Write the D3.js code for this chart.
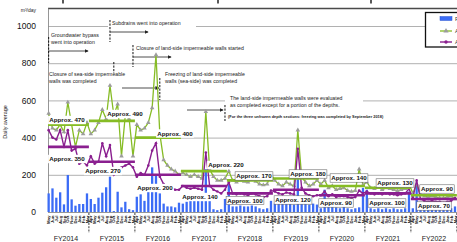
<!DOCTYPE html>
<html><head><meta charset="utf-8">
<script src="https://cdn.jsdelivr.net/npm/d3@7"></script>
<style>html,body{margin:0;padding:0;background:#fff;overflow:hidden}text{font-family:"Liberation Sans",Arial,sans-serif}</style>
</head><body><svg id="c" width="457" height="242"></svg>
<script>
// ---------------- data ----------------
const monthNames = ["Apr","May","Jun","Jul","Aug","Sep","Oct","Nov","Dec","Jan","Feb","Mar"];
const fiscalYears = ["FY2014","FY2015","FY2016","FY2017","FY2018","FY2019","FY2020","FY2021","FY2022"];
const yTicks = [0,200,400,600,800,1000];
// monthly values, index 0 = Apr 2014
const precipitation = [null, 100,127,77,106,41,199,68,34,43,43,100,
 70,43,77,104,133,190,5,109,25,55,15,10,
 82,95,60,110,240,200,100,45,30,30,25,50,
 45,55,60,60,60,60,230,60,15,10,15,70,
 150,30,30,35,30,30,35,30,20,15,20,60,
 45,45,50,50,45,40,220,50,45,40,45,40,
 20,120,30,60,25,20,30,20,15,20,25,130,
 120,20,15,20,15,20,15,20,15,15,20,110,
 20,150,25,20,15,20,15,15,20,15,20,30];
const generated = [null, 530,450,440,470,430,590,470,350,440,420,480,
 420,440,480,550,500,680,520,580,300,520,500,300,
 470,440,450,480,560,845,420,280,250,230,220,200,
 210,200,190,200,190,180,540,230,190,170,170,180,
 220,170,160,170,165,160,180,165,150,145,150,205,
 170,150,140,160,150,140,440,190,160,140,150,170,
 150,170,130,140,120,125,130,115,110,115,230,145,
 160,130,125,135,120,130,125,120,115,120,125,155,
 100,150,95,85,80,85,80,75,75,80,85,70];
const inflow = [null, 440,400,390,440,350,440,330,340,260,270,250,
 300,260,270,370,300,360,200,230,240,250,260,240,
 190,210,200,250,330,370,190,150,140,130,120,120,
 140,130,125,130,125,120,320,140,120,110,100,120,
 160,100,95,100,95,90,100,95,85,80,85,115,
 110,100,95,105,100,95,340,130,100,90,85,90,
 90,110,85,95,80,85,85,80,75,80,115,100,
 110,100,95,100,95,100,95,95,90,95,100,125,
 75,170,70,60,55,60,55,55,50,55,60,75];
const generatedAvg = [470,490,400,220,170,180,140,130,90];
const inflowAvg = [350,270,200,140,100,120,90,100,70];
const legendLabels = ["Precipitation in Namie","Amount of contaminated water generated","Amount of groundwater/rainwater inflow into buildings"];
const events = [
 {month:1, lines:["Groundwater bypass","went into operation"]},
 {month:17, lines:["Subdrains went into operation"]},
 {month:23, lines:["Closure of land-side impermeable walls started"]},
 {month:18, lines:["Closure of sea-side impermeable","walls was completed"]},
 {month:30, lines:["Freezing of land-side impermeable","walls (sea-side) was completed"]},
 {month:47, lines:["The land-side impermeable walls were evaluated","as completed except for a portion of the depths."]}
];
const footnote = "(For the three unfrozen depth sections: freezing was completed by September 2018)";

// ---------------- layout ----------------
const svg = d3.select("#c");
const L = 48, R = 457, B = 212;
const GREEN = "#86bc25", PURPLE = "#8a1f8f", BLUE = "#3b6cf6", GRAY = "#9c9c9c";
const n = precipitation.length;
const x = d3.scaleBand().domain(d3.range(n)).range([42.9, 456.9]).paddingInner(0.4).paddingOuter(0.2);
const cx = i => x(i) + x.bandwidth()/2;
const fy = d3.scaleLinear().domain([0, fiscalYears.length]).range([42.9, 456.9]);
const y = d3.scaleLinear().domain([0, 1000]).range([B, 26]);

// top decorations
svg.selectAll("line.tk").data([63,218,371]).join("line")
  .attr("x1",d=>d).attr("x2",d=>d).attr("y1",0).attr("y2",3.5).attr("stroke","#000").attr("stroke-width",1.3);

// gridlines
svg.append("g").selectAll("line").data(yTicks.filter(d=>d>0)).join("line")
  .attr("x1",L).attr("x2",R).attr("y1",d=>y(d)+0.5).attr("y2",d=>y(d)+0.5)
  .attr("stroke","#a8a8a8").attr("stroke-width",0.9);
svg.append("line").attr("x1",L).attr("x2",R).attr("y1",8.6).attr("y2",8.6).attr("stroke","#4a4a4a").attr("stroke-width",1.5);
svg.append("line").attr("x1",L+0.5).attr("x2",L+0.5).attr("y1",8.6).attr("y2",B).attr("stroke","#8a8a8a").attr("stroke-width",0.9);
svg.append("line").attr("x1",L).attr("x2",R).attr("y1",B+0.5).attr("y2",B+0.5).attr("stroke","#8a8a8a").attr("stroke-width",0.9);

// y axis
const ya = svg.append("g").attr("transform","translate(36,0)")
  .call(d3.axisLeft(y).tickValues(yTicks).tickSize(0).tickPadding(0).tickFormat(d3.format("d")));
ya.select(".domain").remove();
ya.selectAll("text").attr("font-size","8.5px").attr("fill","#111").attr("font-family","Liberation Sans, Arial");
svg.append("text").attr("x",36).attr("y",12).attr("text-anchor","end").attr("font-size","5px").attr("fill","#222")
  .text("m\u00b3/day");
svg.append("text").attr("transform","translate(7,122) rotate(-90)").attr("text-anchor","middle")
  .attr("font-size","5.5px").attr("fill","#222").text("Daily average");

// annotations
const defs = svg.append("defs");
defs.append("marker").attr("id","ah").attr("viewBox","0 0 6 6").attr("refX",5).attr("refY",3)
  .attr("markerWidth",5).attr("markerHeight",5).attr("orient","auto")
  .append("path").attr("d","M0,0L6,3L0,6Z").attr("fill","#222");
const ann = svg.append("g");
function whiteRect(x0,y0,w,h){ ann.append("rect").attr("x",x0).attr("y",y0).attr("width",w).attr("height",h).attr("fill","#fff"); }
function dashV(xx,y1,y2){ ann.append("line").attr("x1",xx).attr("x2",xx).attr("y1",y1).attr("y2",y2)
  .attr("stroke","#111").attr("stroke-width",1).attr("stroke-dasharray","2.2,1.3"); }
function arrow(x1,x2,yy){ ann.append("line").attr("x1",x1).attr("x2",x2).attr("y1",yy).attr("y2",yy)
  .attr("stroke","#222").attr("stroke-width",0.8).attr("marker-end","url(#ah)"); }
function lines(ls,x0,yc,fs,bold){ ls.forEach((t,k)=>ann.append("text").attr("x",x0).attr("y",yc+k*7+fs*0.35)
  .attr("font-size",fs+"px").attr("fill","#1a1a1a").attr("font-weight",bold?"bold":"normal").text(t)); }

whiteRect(108,19.5,88,9);
whiteRect(225,93.5,138,15);
lines(events[0].lines,51,35,5.2);
dashV(cx(events[0].month),37,63); arrow(cx(events[0].month),88,51);
lines(events[1].lines,112,23.5,5.2);
dashV(cx(events[1].month),20,42); arrow(cx(events[1].month),148,32);
lines(events[2].lines,136,48,5.2);
dashV(cx(events[2].month),45,67); arrow(cx(events[2].month),171,57);
lines(events[3].lines,49,74,5.2);
dashV(cx(events[3].month),62,73);
lines(events[4].lines,165,74,5.2);
dashV(cx(events[4].month),78,100); arrow(122,cx(events[4].month)-1,88);
lines(events[5].lines,230,98,5.2);
dashV(cx(events[5].month),105,121); arrow(187,cx(events[5].month)-2,110);
ann.append("text").attr("x",228).attr("y",118).attr("font-size","3.9px").attr("font-weight","bold").attr("fill","#1a1a1a").text(footnote);

// bars
svg.append("g").selectAll("rect").data(precipitation.map((v,i)=>({v,i})).filter(d=>d.v!=null)).join("rect")
  .attr("x",d=>x(d.i)).attr("width",x.bandwidth()).attr("y",d=>y(d.v)).attr("height",d=>B-y(d.v))
  .attr("fill",BLUE);

// generated (green line, gray triangles)
const gpts = generated.map((v,i)=>({v,i})).filter(d=>d.v!=null);
const line = d3.line().x(d=>cx(d.i)).y(d=>y(d.v));
svg.append("path").datum(gpts).attr("d",line).attr("fill","none").attr("stroke",GREEN).attr("stroke-width",1.3);
svg.append("g").selectAll("path").data(gpts).join("path")
  .attr("transform",d=>`translate(${cx(d.i)},${y(d.v)})`)
  .attr("d",d3.symbol(d3.symbolTriangle,9)).attr("fill",GRAY);

// inflow (purple)
const ppts = inflow.map((v,i)=>({v,i})).filter(d=>d.v!=null);
svg.append("path").datum(ppts).attr("d",line).attr("fill","none").attr("stroke",PURPLE).attr("stroke-width",1.4);
svg.append("g").selectAll("circle").data(ppts).join("circle")
  .attr("cx",d=>cx(d.i)).attr("cy",d=>y(d.v)).attr("r",1.3).attr("fill",PURPLE);

// average segments
const avgG = svg.append("g");
generatedAvg.forEach((v,k)=>avgG.append("line").attr("x1",Math.max(L,fy(k))).attr("x2",Math.min(R,fy(k+1)))
  .attr("y1",y(v)).attr("y2",y(v)).attr("stroke",GREEN).attr("stroke-width",2.6));
inflowAvg.forEach((v,k)=>avgG.append("line").attr("x1",Math.max(L,fy(k))).attr("x2",Math.min(R,fy(k+1)))
  .attr("y1",y(v)).attr("y2",y(v)).attr("stroke",PURPLE).attr("stroke-width",2.6));

// approx labels (layout positions)
const gLabelPos = [[67,120],[125,114],[175,133.5],[226,165],[254,176],[308,174],[349,178],[395,183],[437,189]];
const pLabelPos = [[67,159],[103,171],[155,188],[200,197],[245,200.5],[293,200],[336,203],[387,203],[434,206]];
const lab = svg.append("g");
function approx(v,pos,k){
  const g = lab.append("g");
  const r = g.append("rect");
  const t = g.append("text").attr("x",pos[0]).attr("y",pos[1]+2.2).attr("text-anchor","middle")
    .attr("font-size","6.2px").attr("font-weight","bold").attr("fill","#111").text("Approx. "+v);
  const w = t.node().getComputedTextLength();
  r.attr("x",pos[0]-w/2-1.2).attr("y",pos[1]-4.2).attr("width",w+2.4).attr("height",8.4).attr("fill","#fff")
   .attr("stroke",k>=4?"#555":"none").attr("stroke-width",0.5);
}
generatedAvg.forEach((v,k)=>approx(v,gLabelPos[k],k));
inflowAvg.forEach((v,k)=>approx(v,pLabelPos[k],k));

// x axis: months
const xa = svg.append("g").attr("transform",`translate(0,${B})`)
  .call(d3.axisBottom(x).tickValues(d3.range(1,n)).tickSize(0).tickFormat(i=>monthNames[i%12]));
xa.select(".domain").remove();
xa.selectAll("text").attr("transform","rotate(-90)").attr("x",-3.5).attr("y",0).attr("dy","0.35em")
  .attr("text-anchor","end").attr("font-size","4.4px").attr("font-weight","bold").attr("fill","#222");
// fiscal year separators and labels
svg.append("g").selectAll("line").data(d3.range(1,fiscalYears.length+1)).join("line")
  .attr("x1",k=>fy(k)).attr("x2",k=>fy(k)).attr("y1",B+1).attr("y2",B+21)
  .attr("stroke","#222").attr("stroke-width",0.9).attr("stroke-dasharray","2,1.3");
svg.append("g").selectAll("text").data(fiscalYears).join("text")
  .attr("x",(d,k)=>fy(k+0.5)).attr("y",241).attr("text-anchor","middle")
  .attr("font-size","7px").attr("fill","#222").text(d=>d);

// legend
const lg = svg.append("g");
lg.append("rect").attr("x",425.5).attr("y",12.5).attr("width",45).attr("height",34.5)
  .attr("fill","#fff").attr("stroke","#111").attr("stroke-width",1.3);
lg.append("rect").attr("x",440).attr("y",16.5).attr("width",12).attr("height",4).attr("fill",BLUE).attr("stroke","#2a55d0").attr("stroke-width",0.5);
lg.append("line").attr("x1",440).attr("x2",452).attr("y1",31).attr("y2",31).attr("stroke",GREEN).attr("stroke-width",1.3);
lg.append("path").attr("transform","translate(446,31)").attr("d",d3.symbol(d3.symbolTriangle,12)).attr("fill",GRAY);
lg.append("line").attr("x1",440).attr("x2",452).attr("y1",42).attr("y2",42).attr("stroke",PURPLE).attr("stroke-width",1.4);
lg.append("circle").attr("cx",446).attr("cy",42).attr("r",1.7).attr("fill",PURPLE);
lg.selectAll("text").data(legendLabels).join("text").attr("x",455).attr("y",(d,k)=>[20.5,33,44][k])
  .attr("font-size","6px").attr("fill","#333").text(d=>d);
</script></body></html>
